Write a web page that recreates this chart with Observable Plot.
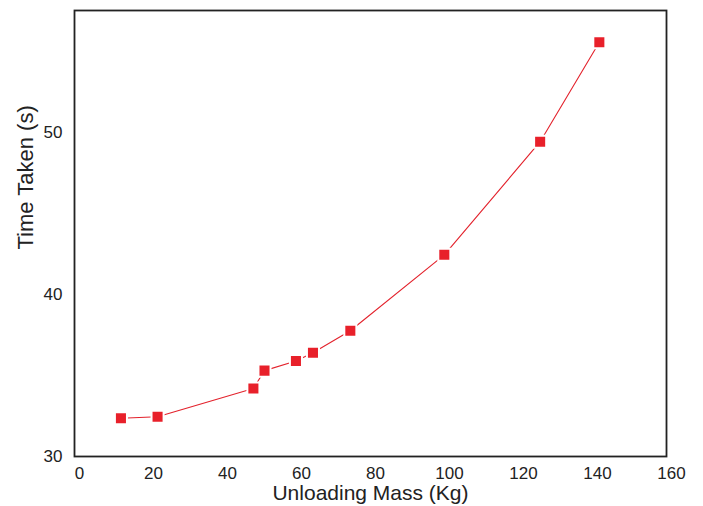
<!DOCTYPE html>
<html>
<head>
<meta charset="utf-8">
<script src="https://cdn.jsdelivr.net/npm/d3@7"></script>
<script src="https://cdn.jsdelivr.net/npm/@observablehq/plot@0.6"></script>
<style>
  html, body { margin: 0; padding: 0; background: #fff; overflow: hidden; }
  svg { display: block; }
</style>
</head>
<body>
<div id="chart"></div>
<script>
const mass = [11.2, 21.1, 47.0, 50.0, 58.5, 63.1, 73.2, 98.6, 124.5, 140.5];
const time = [32.36, 32.45, 34.2, 35.3, 35.9, 36.4, 37.76, 42.45, 49.43, 55.57];
const xTicks = [0, 20, 40, 60, 80, 100, 120, 140, 160];
const yTicks = [30, 40, 50];
const xLabel = "Unloading Mass (Kg)";
const yLabel = "Time Taken (s)";

const data = mass.map((m, i) => ({mass: m, time: time[i]}));

const chart = Plot.plot({
  width: 703,
  height: 506,
  marginLeft: 74,
  marginRight: 37,
  marginTop: 10,
  marginBottom: 50,
  style: {fontFamily: "'Liberation Sans', Arial, sans-serif", background: "#fff", overflow: "visible"},
  x: {domain: [-1.35, 158.65]},
  y: {domain: [30, 57.53]},
  marks: [
    Plot.axisX({ticks: xTicks, tickSize: 0, tickPadding: 10, fontSize: 17, label: null, color: "#222"}),
    Plot.axisY({ticks: yTicks, tickSize: 0, tickPadding: 12, fontSize: 17, label: null, color: "#222"}),
    Plot.line(data, {x: "mass", y: "time", stroke: "#e3222c", strokeWidth: 1.1}),
    Plot.dot(data, {x: "mass", y: "time", symbol: "square", r: 6.8, fill: "#e8202a", stroke: "white", strokeWidth: 2}),
    Plot.frame({stroke: "#222", strokeWidth: 1.8}),
    Plot.text([xLabel], {frameAnchor: "bottom", dy: 37, fontSize: 21, fill: "#222", lineAnchor: "middle"}),
    Plot.text([yLabel], {frameAnchor: "left", dx: -49, dy: 16, rotate: -90, fontSize: 22, fill: "#222", lineAnchor: "middle"})
  ]
});
document.getElementById("chart").appendChild(chart);
</script>
</body>
</html>
